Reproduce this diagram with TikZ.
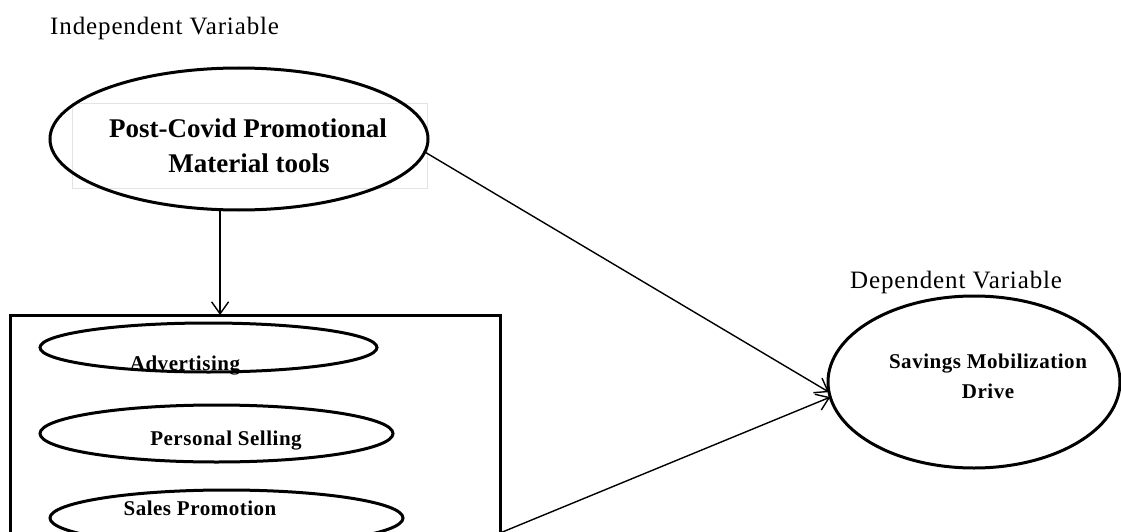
\documentclass[tikz,border=0pt]{standalone}
\usepackage{fontspec}
\setmainfont{Liberation Serif}
\newfontfamily\spacedfont[LetterSpace=3.5]{Liberation Serif}
\newfontfamily\bspacedfont[LetterSpace=2.5]{Liberation Serif}
\usetikzlibrary{shapes.geometric,arrows.meta}
\begin{document}
\begin{tikzpicture}[x=1pt,y=-1pt,
  ell/.style={ellipse, draw, line width=3pt, inner sep=0pt, outer sep=0pt},
  conn/.style={line width=1.4pt, -{Straight Barb[length=12pt,width=17pt]}},
  lab/.style={font=\spacedfont\fontsize{25}{30}\selectfont, inner sep=0pt, anchor=base west},
  bigtxt/.style={font=\bfseries\fontsize{27}{32}\selectfont, inner sep=0pt, anchor=base},
  btxt/.style={font=\bspacedfont\bfseries\fontsize{21}{25}\selectfont, inner sep=0pt, anchor=base}]
\useasboundingbox (0,0) rectangle (1121,532);
\clip (0,0) rectangle (1121,532);

% labels
\node[lab] (indep) at (50,35) {Independent Variable};
\node[lab] (dep) at (850,288) {Dependent Variable};

% faint text frame
\draw[gray!22, line width=0.8pt] (72,103) rectangle (427,188);

% main independent ellipse
\node[ell, minimum width=378pt, minimum height=142pt] (top) at (239,139) {};
\node[bigtxt] (t1) at (248,137) {Post-Covid Promotional};
\node[bigtxt] (t2) at (249,172) {Material tools};

% box with tools
\node[draw, line width=3pt, minimum width=490pt, minimum height=250pt,
      anchor=north west, inner sep=0pt, outer sep=0pt] (box) at (10,315) {};
\node[ell, minimum width=337pt, minimum height=49pt] (adv) at (208.5,347.5) {};
\node[btxt] (advt) at (185,370) {Advertising};
\node[ell, minimum width=353pt, minimum height=57pt] (ps) at (216.5,433.5) {};
\node[btxt] (pst) at (226,445) {Personal Selling};
\node[ell, minimum width=353pt, minimum height=56pt] (sp) at (226.5,518) {};
\node[btxt] (spt) at (200,515) {Sales Promotion};

% dependent ellipse
\node[ell, minimum width=292pt, minimum height=172pt] (sav) at (974,382) {};
\node[btxt] (s1) at (988,368) {Savings Mobilization};
\node[btxt] (s2) at (988,398) {Drive};

% connectors
\coordinate (bx) at (500,533);
\draw[conn] (top.255) -- (top.255 |- box.north);
\draw[conn] (top.-4) -- (sav.184);
\draw[conn] (bx) -- (sav.186);
\end{tikzpicture}
\end{document}
